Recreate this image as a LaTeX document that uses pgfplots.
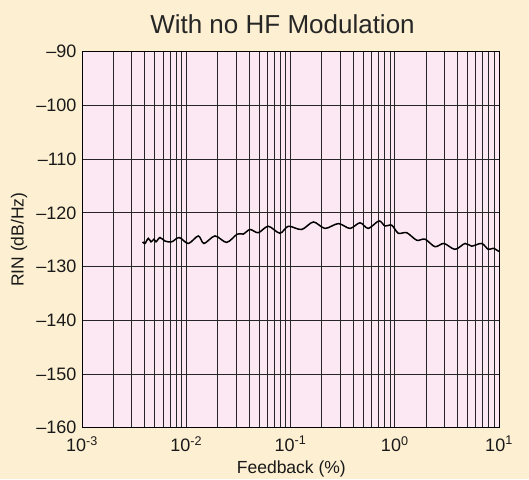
\documentclass[border=0pt]{standalone}
\usepackage{pgfplots}
\pgfplotsset{compat=1.18}
\usepackage{fontspec}
\setmainfont{Liberation Sans}
\definecolor{bgpeach}{RGB}{253,239,209}
\definecolor{pinkbg}{RGB}{252,232,242}
\begin{document}
\begin{tikzpicture}
\fill[bgpeach] (0,0) rectangle (529pt,479pt);
\begin{axis}[
  scale only axis,
  width=417pt, height=376pt,
  at={(82pt,51.3pt)}, anchor=south west,
  xmode=log,
  xmin=1e-3, xmax=10,
  ymin=-160, ymax=-90,
  axis background/.style={fill=pinkbg},
  axis line style={black, line width=0.9pt},
  xmajorgrids, xminorgrids, ymajorgrids,
  major grid style={black!85, line width=0.85pt},
  minor grid style={black!85, line width=0.85pt},
  major tick length=0pt, minor tick length=0pt,
  xtick={1e-3,1e-2,1e-1,1,10},
  xticklabels={10\textsuperscript{-3},10\textsuperscript{-2},10\textsuperscript{-1},10\textsuperscript{0},10\textsuperscript{1}},
  ytick={-160,-150,-140,-130,-120,-110,-100,-90},
  yticklabels={--160,--150,--140,--130,--120,--110,--100,--90},
  tick label style={font=\fontsize{18}{20}\selectfont, text=black!90},
  yticklabel style={xshift=-2pt},
  xticklabel style={yshift=-5pt},
  xlabel={Feedback (\%)},
  xlabel style={at={(axis description cs:0.502,-0.1205)}, anchor=base, font=\fontsize{17.5}{20}\selectfont, text=black!90},
  ylabel={RIN (dB/Hz)},
  ylabel style={at={(axis description cs:-0.151,0.5)}, anchor=center, font=\fontsize{17.5}{20}\selectfont, text=black!90},
  clip=true,
]
\addplot[black, line width=1.5pt, smooth, tension=0.5] table[row sep=\\] {
x y\\
0.003819 -125.4\\
0.004018 -125.7\\
0.004325 -124.75\\
0.004592 -125.4\\
0.004909 -124.9\\
0.005129 -125.4\\
0.005598 -124.6\\
0.006252 -125.25\\
0.007244 -125.4\\
0.00857 -124.6\\
0.01047 -125.7\\
0.01306 -124.3\\
0.01479 -125.7\\
0.01888 -124.3\\
0.02443 -125.5\\
0.0309 -123.95\\
0.03524 -123.95\\
0.04093 -123.1\\
0.04909 -123.7\\
0.06124 -122.5\\
0.07925 -123.8\\
0.09528 -122.5\\
0.1279 -123.1\\
0.1656 -121.7\\
0.2143 -122.9\\
0.2877 -122.0\\
0.3724 -122.9\\
0.4645 -121.85\\
0.5572 -122.9\\
0.7063 -121.5\\
0.8054 -122.45\\
0.9354 -122.3\\
1.081 -123.8\\
1.303 -123.7\\
1.626 -125.1\\
1.950 -124.9\\
2.432 -126.3\\
2.965 -125.7\\
3.784 -126.8\\
4.721 -125.7\\
5.470 -126.2\\
6.823 -125.7\\
7.889 -126.8\\
8.810 -126.6\\
10.0 -127.2\\
};
\end{axis}
\node[anchor=base, font=\fontsize{26}{28}\selectfont, text=black!85, inner sep=0pt] at (282.5pt,445pt) {With no HF Modulation};
\end{tikzpicture}
\end{document}
